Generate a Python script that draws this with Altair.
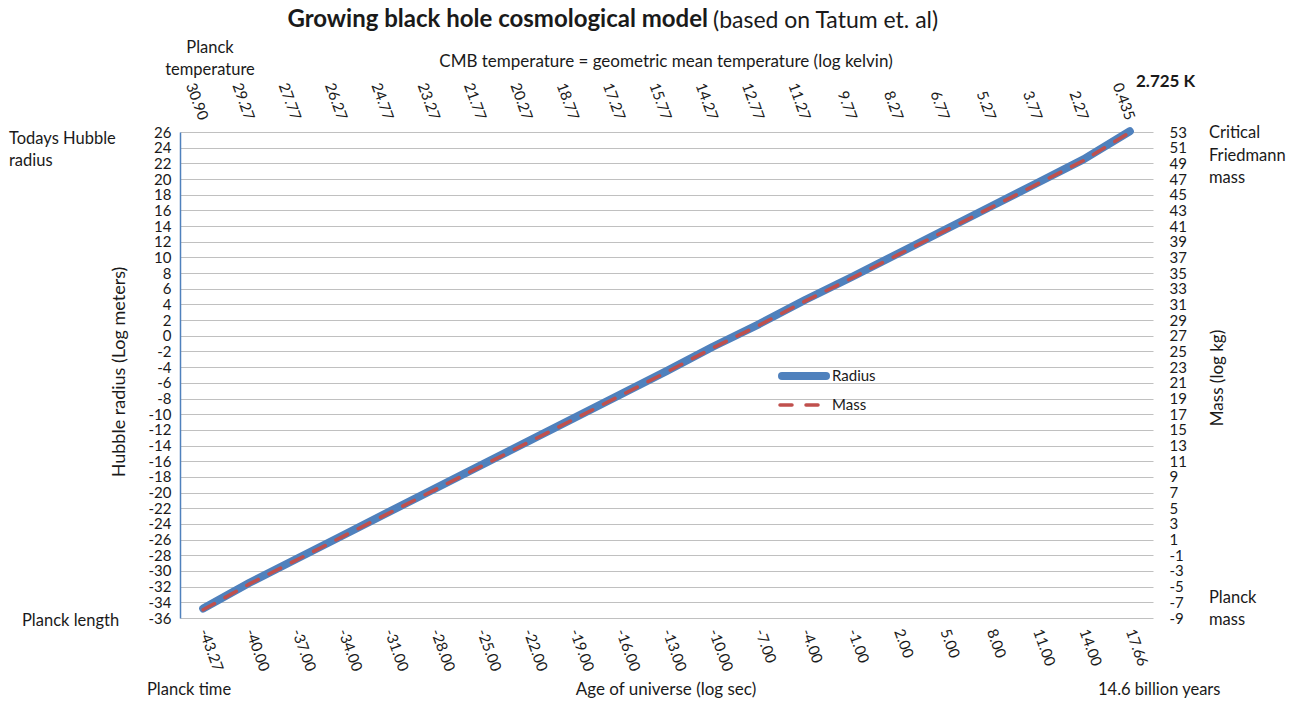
import altair as alt
import pandas as pd

# Age of the universe, log10 seconds (bottom axis categories)
age_labels = ["-43.27", "-40.00", "-37.00", "-34.00", "-31.00", "-28.00", "-25.00",
              "-22.00", "-19.00", "-16.00", "-13.00", "-10.00", "-7.00", "-4.00",
              "-1.00", "2.00", "5.00", "8.00", "11.00", "14.00", "17.66"]
# CMB temperature, log10 kelvin (top axis categories)
temp_labels = ["30.90", "29.27", "27.77", "26.27", "24.77", "23.27", "21.77",
               "20.27", "18.77", "17.27", "15.77", "14.27", "12.77", "11.27",
               "9.77", "8.27", "6.77", "5.27", "3.77", "2.27", "0.435"]
# Hubble radius, log10 metres
radius_log_m = [-34.79, -31.5, -28.5, -25.5, -22.5, -19.5, -16.5, -13.5, -10.5, -7.5,
                -4.5, -1.4, 1.5, 4.6, 7.5, 10.5, 13.5, 16.5, 19.5, 22.5, 26.1]
# Mass, log10 kg
mass_log_kg = [-7.96, -4.65, -1.65, 1.35, 4.35, 7.35, 10.35, 13.35, 16.35, 19.35,
               22.35, 25.45, 28.35, 31.45, 34.35, 37.35, 40.35, 43.35, 46.35, 49.35, 52.95]

radius_ticks = list(range(-36, 27, 2))
mass_ticks = list(range(-9, 54, 2))

df = pd.DataFrame({"age": age_labels, "temp": temp_labels,
                   "radius": radius_log_m, "mass": mass_log_kg})

FONT = "Lato"
INK = "#1a1a1a"
BLUE = "#4F81BD"
RED = "#C0504D"
LEFT, TOP, W, H = 180, 132, 973, 486
TICK_FONT = 15

base = alt.Chart(df)

radius_line = base.mark_line(color=BLUE, strokeWidth=8, strokeCap="round",
                             strokeJoin="round").encode(
    x=alt.X("age:O", sort=None, scale=alt.Scale(type="point", padding=0.5),
            axis=alt.Axis(orient="bottom", title=None, labelAngle=70, labelAlign="left",
                          labelBaseline="middle", labelPadding=11, domain=False,
                          ticks=False, grid=False, labelFontSize=TICK_FONT,
                          labelFont=FONT, labelColor=INK)),
    y=alt.Y("radius:Q", scale=alt.Scale(domain=[-36, 26], nice=False, zero=False),
            axis=alt.Axis(orient="left", title=None, values=radius_ticks, grid=True,
                          gridColor="#c0c0c0", gridWidth=1, domainColor=BLUE,
                          domainWidth=1.5, ticks=False, labelPadding=9,
                          labelExpr="datum.value + ''",
                          labelFontSize=TICK_FONT, labelFont=FONT, labelColor=INK,
                          labelOverlap=False)),
)

mass_line = base.mark_line(color=RED, strokeWidth=3.5, strokeCap="round",
                           strokeDash=[13, 12]).encode(
    x=alt.X("temp:O", sort=None, scale=alt.Scale(type="point", padding=0.5),
            axis=alt.Axis(orient="top", title=None, labelAngle=70, labelAlign="right",
                          labelBaseline="middle", labelPadding=13, domain=False,
                          ticks=False, grid=False, labelFontSize=TICK_FONT,
                          labelFont=FONT, labelColor=INK)),
    y=alt.Y("mass:Q", scale=alt.Scale(domain=[-9, 53], nice=False, zero=False),
            axis=alt.Axis(orient="right", title=None, values=mass_ticks, grid=False,
                          domain=False, ticks=False, labelPadding=16, labelAlign="left",
                          labelExpr="datum.value + ''",
                          labelFontSize=TICK_FONT, labelFont=FONT, labelColor=INK,
                          labelOverlap=False)),
)


def note(text, x, y, size=16.5, weight="normal", align="left", angle=0, line_height=22):
    """Free text placed in page pixels; y is the centre of the first line."""
    return alt.Chart(alt.Data(values=[{}])).mark_text(
        text=text, font=FONT, fontSize=size, fontWeight=weight, align=align,
        baseline="middle", angle=angle, color=INK, lineBreak="\n",
        lineHeight=line_height,
    ).encode(x=alt.value(x - LEFT), y=alt.value(y - TOP))


def swatch(x1, x2, y, color, width, dash=None):
    props = dict(color=color, strokeWidth=width, strokeCap="round")
    if dash:
        props["strokeDash"] = dash
    return alt.Chart(alt.Data(values=[{}])).mark_rule(**props).encode(
        x=alt.value(x1 - LEFT), x2=alt.value(x2 - LEFT), y=alt.value(y - TOP))


notes = [
    note("Growing black hole cosmological model", 708, 20, size=24, weight="bold",
         align="right"),
    note("(based on Tatum et. al)", 713, 21, size=23),
    note("Planck\ntemperature", 210, 48, align="center"),
    note("CMB temperature = geometric mean temperature (log kelvin)", 666, 62, size=17,
         align="center"),
    note("2.725 K", 1136, 82, size=17, weight="bold"),
    note("Todays Hubble\nradius", 9, 139),
    note("Planck length", 22, 621),
    note("Planck time", 147, 690),
    note("Age of universe (log sec)", 666, 690, size=17, align="center"),
    note("14.6 billion years", 1098, 690),
    note("Critical\nFriedmann\n mass", 1209, 133, line_height=22.5),
    note("Planck\nmass", 1209, 598),
    note("Hubble radius (Log meters)", 120, 372, size=18, align="center", angle=270),
    note("Mass (log kg)", 1218, 378, size=17, align="center", angle=270),
    note("Radius", 832, 376, size=15),
    note("Mass", 832, 405, size=15),
]

legend = [
    swatch(782, 826, 376, BLUE, 8),
    swatch(780, 824, 405, RED, 3.5, dash=[12, 14]),
]

chart = alt.layer(radius_line, mass_line, *legend, *notes).resolve_scale(
    x="independent", y="independent"
).properties(
    width=W, height=H,
    autosize=alt.AutoSizeParams(type="none"),
    padding={"left": LEFT, "top": TOP, "right": 1298 - LEFT - W, "bottom": 704 - TOP - H},
    background="white",
).configure_view(stroke="transparent")

chart.save("out.html", embed_options={"renderer": "svg", "actions": False})
